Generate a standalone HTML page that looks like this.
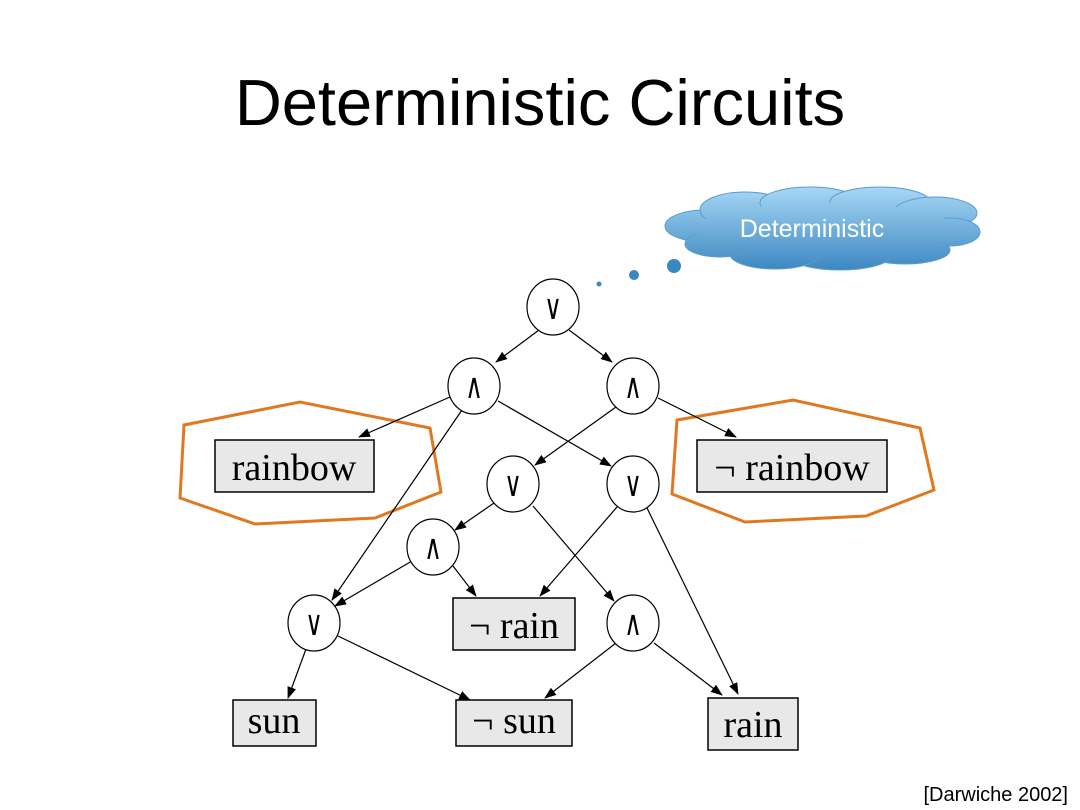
<!DOCTYPE html>
<html><head><style>
body{margin:0;background:#fff;}
svg{display:block;}
</style></head><body>
<svg width="1080" height="810" viewBox="0 0 1080 810" xmlns="http://www.w3.org/2000/svg">
<defs>
<marker id="a" markerWidth="12" markerHeight="9" refX="11" refY="4.5" orient="auto" markerUnits="userSpaceOnUse"><path d="M0,0L12,4.5L0,9z" fill="#000"/></marker>
<linearGradient id="g" gradientUnits="userSpaceOnUse" x1="0" y1="188" x2="0" y2="272"><stop offset="0" stop-color="#a6d6f5"/><stop offset="1" stop-color="#3a86c0"/></linearGradient>
</defs>
<text x="540" y="125" font-family="Liberation Sans, sans-serif" font-size="65" text-anchor="middle" fill="#000">Deterministic Circuits</text>
<!-- cloud -->
<g fill="url(#g)" stroke="#5a9ccc" stroke-width="1">
<ellipse cx="705" cy="226" rx="40" ry="16"/>
<ellipse cx="745" cy="210" rx="45" ry="18"/>
<ellipse cx="810" cy="203" rx="50" ry="16"/>
<ellipse cx="880" cy="202" rx="50" ry="15"/>
<ellipse cx="935" cy="213" rx="42" ry="16"/>
<ellipse cx="950" cy="232" rx="30" ry="14"/>
<ellipse cx="905" cy="250" rx="45" ry="14"/>
<ellipse cx="840" cy="256" rx="50" ry="14"/>
<ellipse cx="775" cy="254" rx="45" ry="15"/>
<ellipse cx="720" cy="244" rx="35" ry="13"/>
</g>
<ellipse cx="825" cy="229" rx="130" ry="26" fill="url(#g)"/>
<text x="812" y="237" font-family="Liberation Sans, sans-serif" font-size="25" text-anchor="middle" fill="#fff">Deterministic</text>
<circle cx="674" cy="266" r="7" fill="#3a88bf"/>
<circle cx="634" cy="275" r="5" fill="#3a88bf"/>
<circle cx="599" cy="284" r="2.5" fill="#3a88bf"/>
<!-- hexagons -->
<polygon points="184,425 300,402 430,428 441,492 375,518 255,524 180,498" fill="none" stroke="#e07820" stroke-width="3"/>
<polygon points="677,420 793,400 920,428 934,490 866,516 745,522 672,494" fill="none" stroke="#e07820" stroke-width="3"/>
<!-- edges -->
<g stroke="#000" stroke-width="1.2" marker-end="url(#a)">
<line x1="539" y1="330" x2="496" y2="362"/>
<line x1="569" y1="330" x2="612" y2="362"/>
<line x1="450" y1="397" x2="359" y2="437"/>
<line x1="462" y1="410" x2="332" y2="600"/>
<line x1="498" y1="401" x2="611" y2="466"/>
<line x1="658" y1="398" x2="736" y2="437"/>
<line x1="616" y1="407" x2="535" y2="465"/>
<line x1="494" y1="503" x2="455" y2="530"/>
<line x1="533" y1="506" x2="614" y2="601"/>
<line x1="617" y1="507" x2="540" y2="596"/>
<line x1="647" y1="508" x2="738" y2="694"/>
<line x1="412" y1="561" x2="335" y2="606"/>
<line x1="453" y1="566" x2="476" y2="596"/>
<line x1="306" y1="649" x2="288" y2="698"/>
<line x1="338" y1="636" x2="470" y2="700"/>
<line x1="616" y1="643" x2="545" y2="698"/>
<line x1="654" y1="643" x2="722" y2="695"/>
</g>
<!-- gates -->
<g fill="#fff" stroke="#000" stroke-width="1.2">
<ellipse cx="553" cy="307" rx="26" ry="28"/>
<ellipse cx="474" cy="386" rx="26" ry="28"/>
<ellipse cx="633" cy="386" rx="26" ry="28"/>
<ellipse cx="513" cy="484" rx="26" ry="28"/>
<ellipse cx="633" cy="484" rx="26" ry="28"/>
<ellipse cx="433" cy="547" rx="26" ry="28"/>
<ellipse cx="314" cy="623" rx="26" ry="28"/>
<ellipse cx="633" cy="623" rx="26" ry="28"/>
</g>
<g font-family="DejaVu Sans, sans-serif" font-size="24" text-anchor="middle" fill="#000">
<text transform="translate(553,319) scale(1,1.45)">∨</text>
<text transform="translate(474,398) scale(1,1.45)">∧</text>
<text transform="translate(633,398) scale(1,1.45)">∧</text>
<text transform="translate(513,496) scale(1,1.45)">∨</text>
<text transform="translate(633,496) scale(1,1.45)">∨</text>
<text transform="translate(433,559) scale(1,1.45)">∧</text>
<text transform="translate(314,635) scale(1,1.45)">∨</text>
<text transform="translate(633,635) scale(1,1.45)">∧</text>
</g>
<!-- boxes -->
<g fill="#e8e8e8" stroke="#000" stroke-width="1.5">
<rect x="215" y="440" width="159" height="52"/>
<rect x="697" y="440" width="190" height="52"/>
<rect x="453" y="598" width="122" height="52"/>
<rect x="233" y="700" width="83" height="46"/>
<rect x="456" y="700" width="116" height="46"/>
<rect x="708" y="698" width="90" height="52"/>
</g>
<g font-family="Liberation Serif, serif" font-size="38" text-anchor="middle" fill="#000">
<text x="294" y="480">rainbow</text>
<text x="792" y="480">¬ rainbow</text>
<text x="514" y="638">¬ rain</text>
<text x="274" y="733">sun</text>
<text x="514" y="733">¬ sun</text>
<text x="753" y="737">rain</text>
</g>
<text x="1068" y="801" font-family="Liberation Sans, sans-serif" font-size="20" text-anchor="end" fill="#000">[Darwiche 2002]</text>
</svg>
</body></html>
